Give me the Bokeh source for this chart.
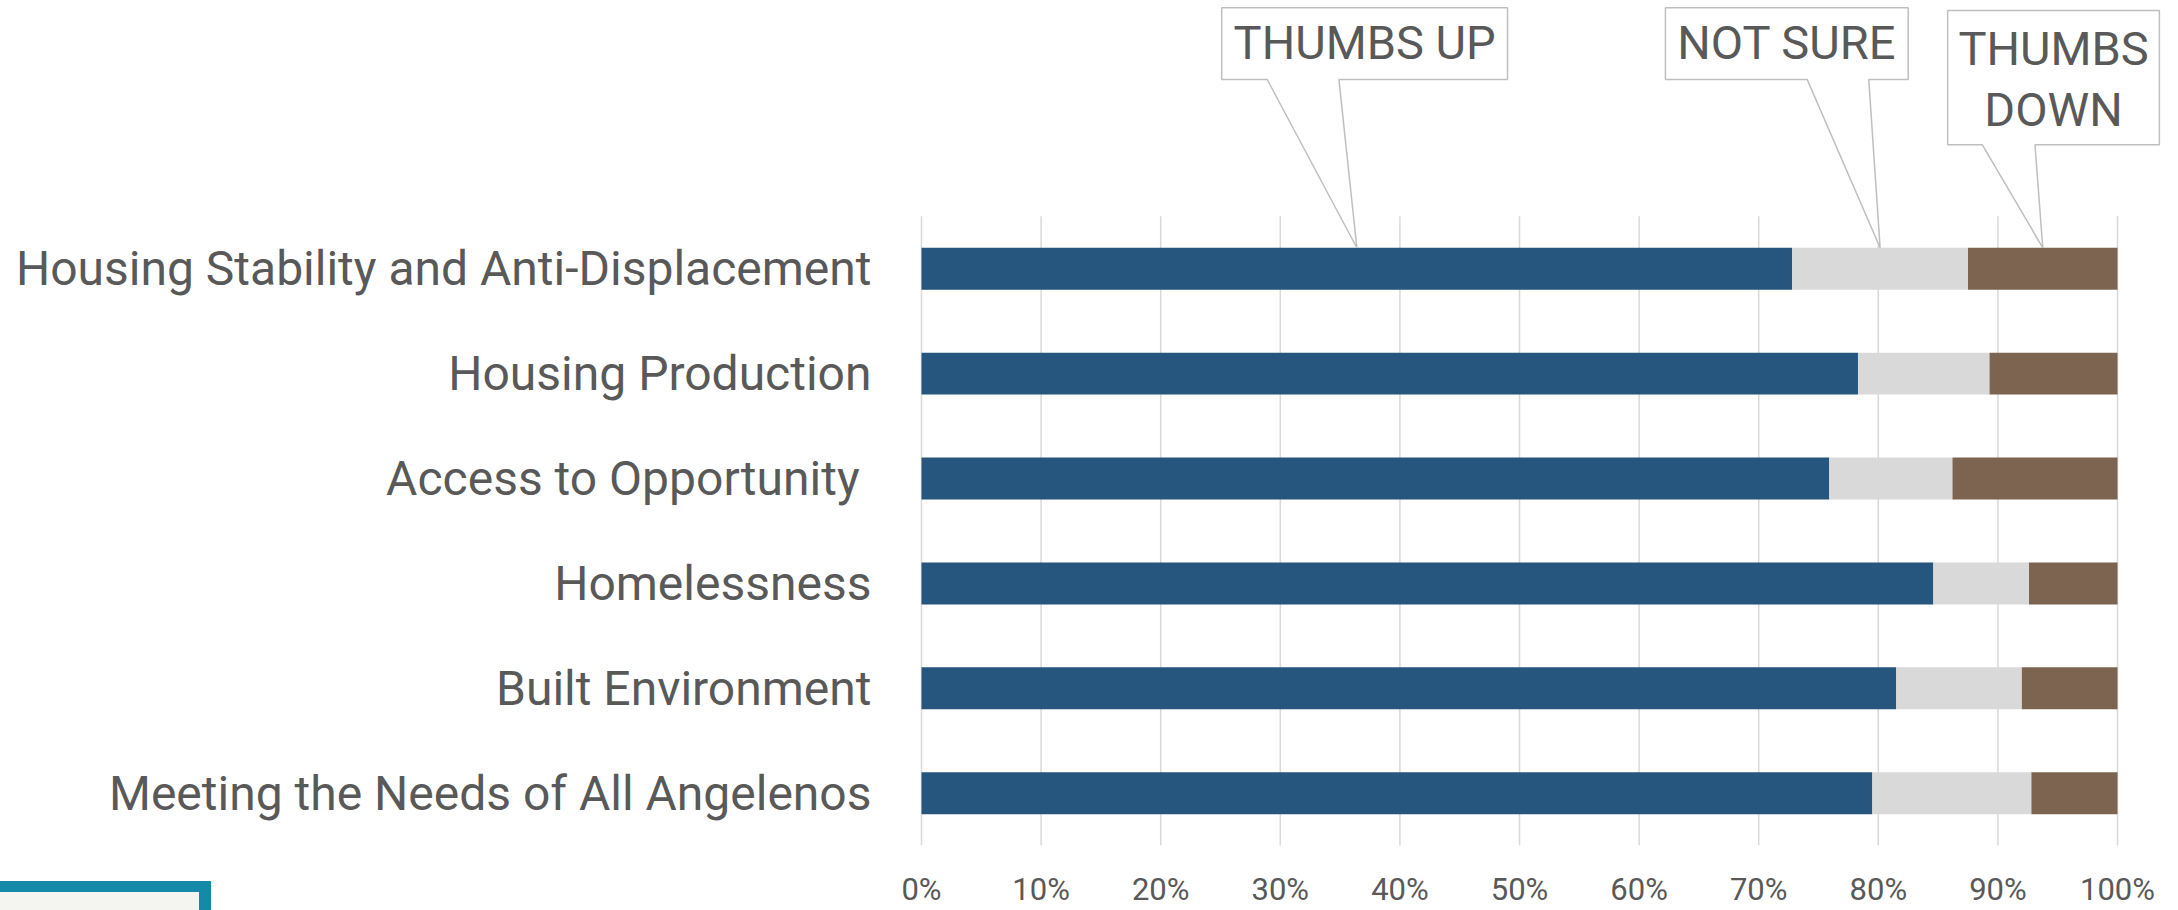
from bokeh.plotting import figure
from bokeh.models import FixedTicker, Div, GridBox
from bokeh.core.properties import value
from bokeh.embed import file_html
from bokeh.resources import INLINE

# ---------------- data (top row first) ----------------
categories = [
    "Housing Stability and Anti-Displacement",
    "Housing Production",
    "Access to Opportunity\u00a0",
    "Homelessness",
    "Built Environment",
    "Meeting the Needs of All Angelenos",
]
thumbs_up = [72.8, 78.3, 75.9, 84.6, 81.5, 79.5]
not_sure = [14.7, 11.0, 10.3, 8.0, 10.5, 13.3]
thumbs_down = [12.5, 10.7, 13.8, 7.4, 8.0, 7.2]
series_names = ["THUMBS UP", "NOT SURE", "THUMBS\nDOWN"]
series_colors = ["#26557D", "#D9D9D9", "#7D6451"]
x_ticks = [0, 10, 20, 30, 40, 50, 60, 70, 80, 90, 100]
x_tick_labels = ["0%", "10%", "20%", "30%", "40%", "50%", "60%", "70%", "80%", "90%", "100%"]

TEXT = "#595959"
FONT = "Roboto"

n = len(categories)
ys = [n - 1 - i for i in range(n)]

p = figure(
    width=2178, height=910,
    x_range=(-0.836, 104.43), y_range=(-0.498, 7.557),
    output_backend="svg", toolbar_location=None,
    min_border_left=911, min_border_right=8, min_border_top=0, min_border_bottom=61,
)
p.outline_line_color = None
p.xgrid.visible = False
p.ygrid.visible = False
p.background_fill_color = "white"
p.border_fill_color = "white"

# vertical gridlines spanning the category band
p.segment(x0=x_ticks, x1=x_ticks, y0=[-0.5] * len(x_ticks), y1=[n - 0.5] * len(x_ticks),
          line_color="#D9D9D9", line_width=1.5)

# stacked bars
segs = [thumbs_up, not_sure, thumbs_down]
left = [0.0] * n
for vals, col in zip(segs, series_colors):
    right = [l + v for l, v in zip(left, vals)]
    p.hbar(y=ys, left=left, right=right, height=0.4, fill_color=col, line_color=None)
    left = right

# axes
p.yaxis.ticker = FixedTicker(ticks=ys)
p.yaxis.major_label_overrides = {y: c for y, c in zip(ys, categories)}
p.yaxis.axis_line_color = None
p.yaxis.major_tick_line_color = None
p.yaxis.minor_tick_line_color = None
p.yaxis.major_tick_out = 0
p.yaxis.minor_tick_out = 0
p.yaxis.major_label_text_font = FONT
p.yaxis.major_label_text_font_size = "48px"
p.yaxis.major_label_text_color = TEXT
p.yaxis.major_label_standoff = 40

p.xaxis.ticker = FixedTicker(ticks=x_ticks)
p.xaxis.major_label_overrides = {t: l for t, l in zip(x_ticks, x_tick_labels)}
p.xaxis.axis_line_color = None
p.xaxis.major_tick_line_color = None
p.xaxis.minor_tick_line_color = None
p.xaxis.major_tick_out = 0
p.xaxis.minor_tick_out = 0
p.xaxis.major_label_text_font = FONT
p.xaxis.major_label_text_font_size = "31px"
p.xaxis.major_label_text_color = TEXT
p.xaxis.major_label_standoff = 25

# callouts pointing at the middle of each segment of the top row
top_i = 0
tips = [thumbs_up[top_i] / 2,
        thumbs_up[top_i] + not_sure[top_i] / 2,
        thumbs_up[top_i] + not_sure[top_i] + thumbs_down[top_i] / 2]
tip_y = ys[top_i] + 0.2
# layout of each callout relative to its tip: left, right, base1, base2, top, bottom, first text line y
box_layout = [
    (-11.3, 12.6, -7.5, -1.5, 7.488, 6.805, 7.157),
    (-17.95, 2.35, -6.1, -0.95, 7.488, 6.805, 7.157),
    (-7.95, 9.75, -5.05, -0.65, 7.462, 6.181, 7.098),
]
line_step = 0.58
pxs, pys, tx, ty, tt = [], [], [], [], []
for name, t, (l, r, b1, b2, tp, bt, ly) in zip(series_names, tips, box_layout):
    pxs.append([t + l, t + r, t + r, t + b2, t, t + b1, t + l])
    pys.append([tp, tp, bt, bt, tip_y, bt, bt])
    for k, line in enumerate(name.split("\n")):
        tx.append(t + (l + r) / 2)
        ty.append(ly - k * line_step)
        tt.append(line)
p.patches(xs=pxs, ys=pys, fill_color="white", line_color="#BFBFBF", line_width=1.5)
p.text(x=tx, y=ty, text=tt, text_font=value(FONT), text_font_size="47px",
       text_color=TEXT, text_align="center", text_baseline="middle")

# partial teal box at the bottom left of the slide (overlaid in the same grid cell)
corner = Div(text="", width=211, height=29, margin=(881, 0, 0, 0),
             styles={"background-color": "#F4F5F1",
                     "border-top": "11px solid #1589A8",
                     "border-right": "12px solid #1589A8",
                     "box-sizing": "border-box"})

layout = GridBox(children=[(p, 0, 0), (corner, 0, 0)])

open("out.html", "w").write(file_html(layout, INLINE))
